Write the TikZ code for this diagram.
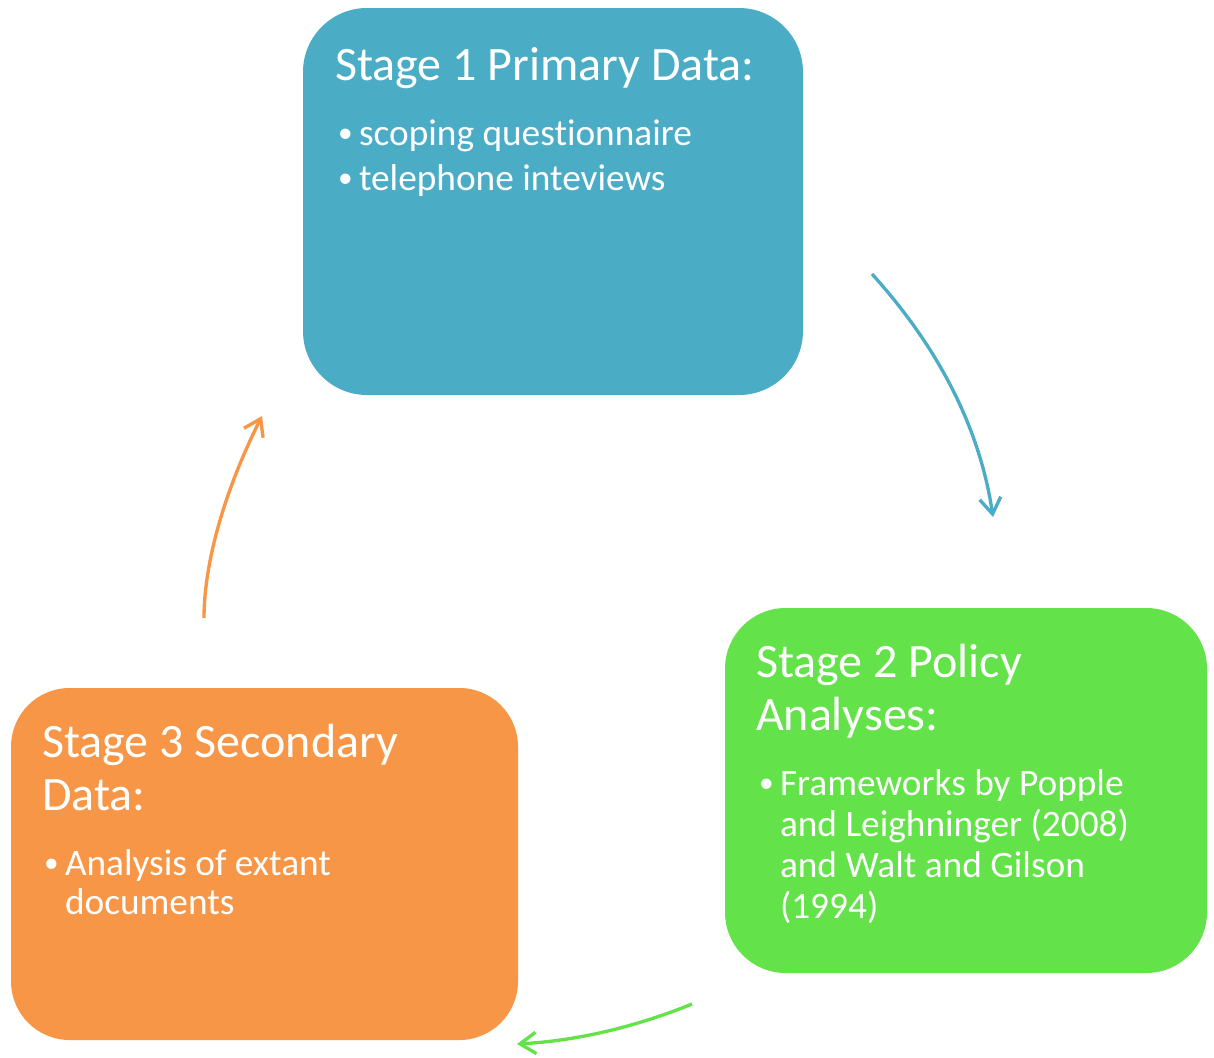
\documentclass[tikz,border=0pt]{standalone}
\usepackage{fontspec}
\setmainfont[Ligatures=NoCommon]{Carlito}
\usetikzlibrary{arrows.meta}
\definecolor{sblue}{RGB}{75,172,198}
\definecolor{sgreen}{RGB}{99,226,74}
\definecolor{sorange}{RGB}{247,150,70}
\begin{document}
\begin{tikzpicture}[x=0.75pt,y=-0.75pt,
  box/.style={rectangle, draw=none, outer sep=0pt, inner sep=0pt},
  txt/.style={anchor=base west, inner sep=0pt, outer sep=0pt, text=white},
  tA/.style={txt, font=\fontsize{36}{40}\selectfont},
  bA/.style={txt, font=\fontsize{28}{32}\selectfont},
  dot/.style={txt, font=\fontsize{22}{24}\selectfont},
  arr/.style={line width=2.5pt, -{Straight Barb[length=12pt,width=16pt]}}]
\useasboundingbox (0,0) rectangle (1214,1057);
% boxes
\node[box, fill=sblue, rounded corners=48pt, minimum width=375pt, minimum height=290.25pt] (s1) at (553,201.5) {};
\node[box, fill=sgreen, rounded corners=45.5pt, minimum width=361.5pt, minimum height=273.75pt] (s2) at (966,790.5) {};
\node[box, fill=sorange, rounded corners=44pt, minimum width=380.25pt, minimum height=264pt] (s3) at (264.5,864) {};
% stage 1 text
\node[tA] (t1) at (335,80) {Stage 1 Primary Data:};
\node[dot] (d1a) at (338,142) {•};
\node[bA] (l1a) at (359,145) {scoping questionnaire};
\node[dot] (d1b) at (338,187) {•};
\node[bA] (l1b) at (359,190) {telephone inteviews};
% stage 2 text
\node[tA] (t2a) at (756,677) {Stage 2 Policy};
\node[tA] (t2b) at (756,730) {Analyses:};
\node[dot] (d2) at (759,792) {•};
\node[bA] (l2a) at (780,795) {Frameworks by Popple};
\node[bA] (l2b) at (780,836) {and Leighninger (2008)};
\node[bA] (l2c) at (780,877) {and Walt and Gilson};
\node[bA] (l2d) at (780,918) {(1994)};
% stage 3 text
\node[tA] (t3a) at (42,757) {Stage 3 Secondary};
\node[tA] (t3b) at (42,810) {Data:};
\node[dot] (d3) at (44,872) {•};
\node[bA] (l3a) at (65,875) {Analysis of extant};
\node[bA] (l3b) at (65,914) {documents};
% arrows
\coordinate (a1s) at (872,274);
\coordinate (a1e) at (993,517);
\coordinate (a2s) at (692,1004);
\coordinate (a2e) at (517,1044);
\coordinate (a3s) at (204,618);
\coordinate (a3e) at (262,416);
\draw[arr, sblue] (a1s) .. controls (939,348) and (980,429) .. (a1e);
\draw[arr, sgreen] (a2s) .. controls (633,1028) and (574,1041) .. (a2e);
\draw[arr, sorange] (a3s) .. controls (204,570) and (220,500) .. (a3e);
\end{tikzpicture}
\end{document}
